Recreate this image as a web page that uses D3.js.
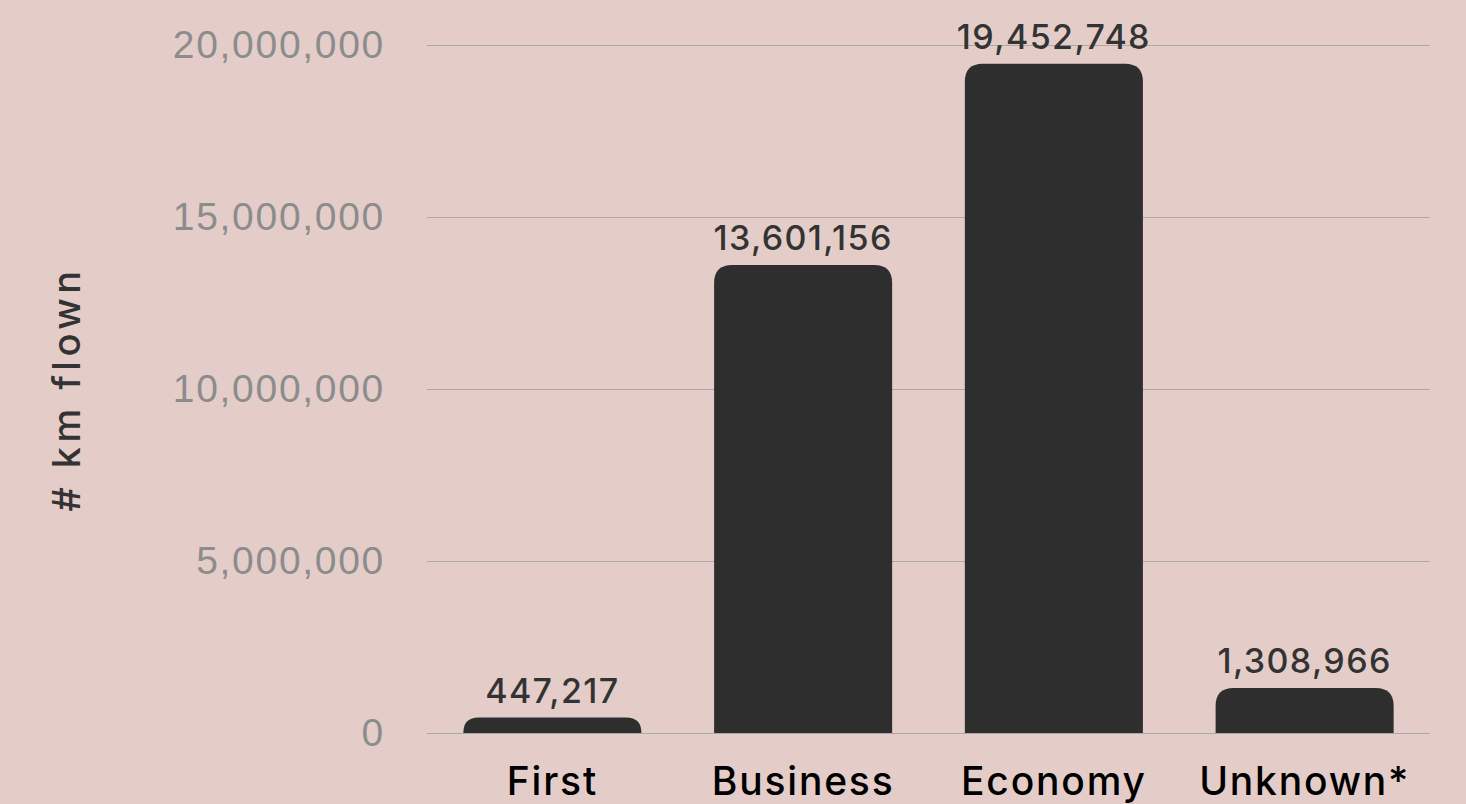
<!DOCTYPE html>
<html>
<head>
<meta charset="utf-8">
<script src="https://cdn.jsdelivr.net/npm/d3@7"></script>
<style>
  body { margin: 0; background: #e4cdc9; }
  svg { display: block; font-family: Inter, "Noto Sans", sans-serif; }
</style>
</head>
<body>
<div class="chart"></div>
<script>
var categories = ["First", "Business", "Economy", "Unknown*"];
var kmFlown = [447217, 13601156, 19452748, 1308966];
var yTicks = [0, 5000000, 10000000, 15000000, 20000000];

var w = 1466;
var h = 804;
var margin = {
  top: 45,
  bottom: 71,
  left: 427,
  right: 36
};

var xScale = d3.scaleBand()
               .domain(categories)
               .range([margin.left, w - margin.right])
               .paddingInner(0.29)
               .paddingOuter(0.145);
var yScale = d3.scaleLinear()
               .domain([0, 20000000])
               .range([h - margin.bottom, margin.top]);
var fmt = d3.format(",");

var svg = d3.select(".chart")
            .append("svg")
            .attr("width", w)
            .attr("height", h);

svg.append("rect")
   .attr("width", w)
   .attr("height", h)
   .attr("fill", "#e4cdc9");

// gridlines + tick labels
var yAxis = d3.axisLeft()
              .scale(yScale)
              .tickValues(yTicks)
              .tickFormat(fmt)
              .tickSize(-(w - margin.left - margin.right))
              .tickPadding(42);
var gy = svg.append("g")
   .attr("transform", "translate(" + margin.left + ",0)")
   .call(yAxis);
gy.select(".domain").remove();
gy.selectAll("line").attr("stroke", "#a9a9a9").attr("stroke-width", 1);
gy.selectAll("text")
  .attr("fill", "#8c8c8c")
  .attr("font-size", 39)
  .attr("font-weight", 200)
  .attr("letter-spacing", "1.7px");

// bars, rounded top only
var r = 18;
function barPath(d, i) {
  var x0 = xScale(categories[i]);
  var x1 = x0 + xScale.bandwidth();
  var y0 = yScale(0);
  var y1 = yScale(d);
  var rr = Math.min(r, (y0 - y1));
  return "M" + x0 + "," + y0 +
         "L" + x0 + "," + (y1 + rr) +
         "Q" + x0 + "," + y1 + " " + (x0 + rr) + "," + y1 +
         "L" + (x1 - rr) + "," + y1 +
         "Q" + x1 + "," + y1 + " " + x1 + "," + (y1 + rr) +
         "L" + x1 + "," + y0 + "Z";
}
svg.append("g")
   .selectAll("path")
   .data(kmFlown)
   .enter()
   .append("path")
   .attr("d", barPath)
   .attr("fill", "#2e2e2e");

// value labels
svg.append("g")
   .selectAll("text")
   .data(kmFlown)
   .enter()
   .append("text")
   .attr("x", function(d, i) { return xScale(categories[i]) + xScale.bandwidth() / 2; })
   .attr("y", function(d) { return yScale(d) - 15; })
   .attr("text-anchor", "middle")
   .attr("font-size", 34)
   .attr("font-weight", 500)
   .attr("letter-spacing", "1.4px")
   .attr("fill", "#333")
   .text(function(d) { return fmt(d); });

// category labels
svg.append("g")
   .selectAll("text")
   .data(categories)
   .enter()
   .append("text")
   .attr("x", function(d) { return xScale(d) + xScale.bandwidth() / 2; })
   .attr("y", h - 9)
   .attr("text-anchor", "middle")
   .attr("font-size", 39)
   .attr("font-weight", 500)
   .attr("letter-spacing", "1.8px")
   .attr("fill", "#000")
   .text(function(d) { return d; });

// axis title
svg.append("text")
   .attr("transform", "translate(80," + ((margin.top + h - margin.bottom) / 2) + ") rotate(-90)")
   .attr("text-anchor", "middle")
   .attr("font-size", 38)
   .attr("font-weight", 500)
   .attr("letter-spacing", "4.5px")
   .attr("fill", "#333")
   .text("# km flown");
</script>
</body>
</html>
